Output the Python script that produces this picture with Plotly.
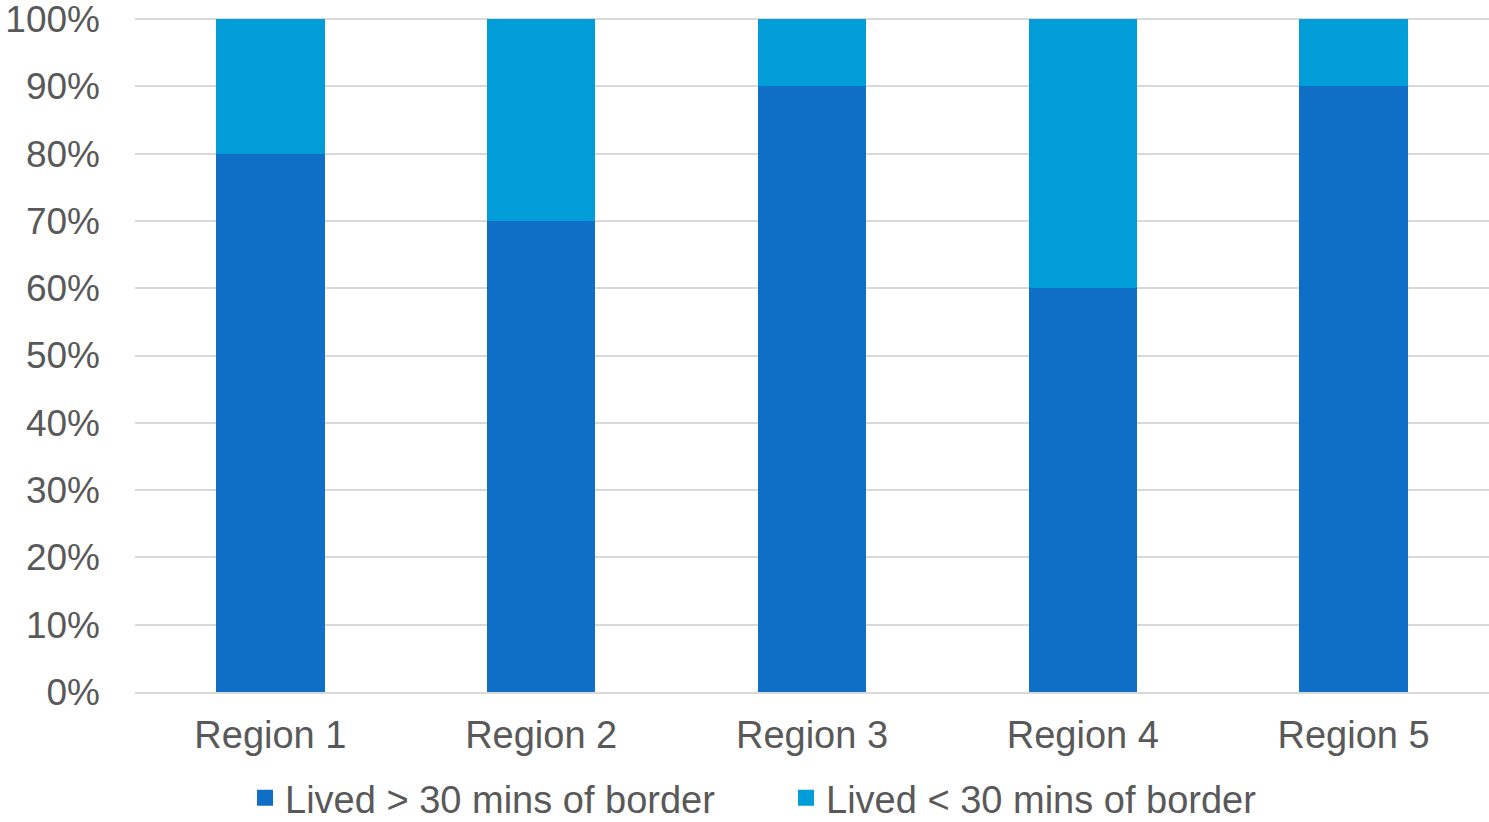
import plotly.graph_objects as go

categories = ["Region 1", "Region 2", "Region 3", "Region 4", "Region 5"]
lived_over_30 = [80, 70, 90, 60, 90]
lived_under_30 = [20, 30, 10, 40, 10]
series_names = ["Lived > 30 mins of border", "Lived < 30 mins of border"]
series_colors = ["#0F6FC6", "#009DD9"]
y_tickvals = [0, 10, 20, 30, 40, 50, 60, 70, 80, 90, 100]
y_ticktext = [f"{v}%" for v in y_tickvals]

font_family = "Liberation Sans, Arial, sans-serif"
text_color = "#595959"
grid_color = "#D9D9D9"

fig = go.Figure()
for vals, name, color in zip([lived_over_30, lived_under_30], series_names, series_colors):
    fig.add_trace(go.Bar(x=categories, y=vals, name=name, showlegend=False,
                         marker=dict(color=color, line=dict(width=0))))
# legend entries with larger square swatches
for name, color in zip(series_names, series_colors):
    fig.add_trace(go.Scatter(x=[None], y=[None], mode="markers", name=name,
                             marker=dict(symbol="square", size=16, color=color)))

fig.update_layout(
    width=1489, height=822,
    barmode="stack", bargap=0.6,
    plot_bgcolor="white", paper_bgcolor="white",
    margin=dict(l=135, r=0, t=17, b=130, autoexpand=False),
    font=dict(family=font_family, size=38, color=text_color),
    showlegend=True,
    legend=dict(orientation="h", x=0.4808, xanchor="center", y=-0.157, yanchor="middle",
                font=dict(size=38, color=text_color), entrywidth=496,
                traceorder="normal"),
    xaxis=dict(showgrid=False, showline=True, linecolor=grid_color, linewidth=2,
               ticks="", ticklabelstandoff=8, tickfont=dict(size=38)),
    yaxis=dict(range=[0, 100.3], tickvals=y_tickvals, ticktext=y_ticktext,
               showgrid=True, gridcolor=grid_color, gridwidth=2,
               zeroline=False, showline=False, ticks="", ticklabelstandoff=34,
               ticklabeloverflow="allow", tickfont=dict(size=37)),
)

fig.write_html("out.html", config={"displayModeBar": False},
               post_script="document.body.style.margin='0';document.body.style.overflow='hidden';")
